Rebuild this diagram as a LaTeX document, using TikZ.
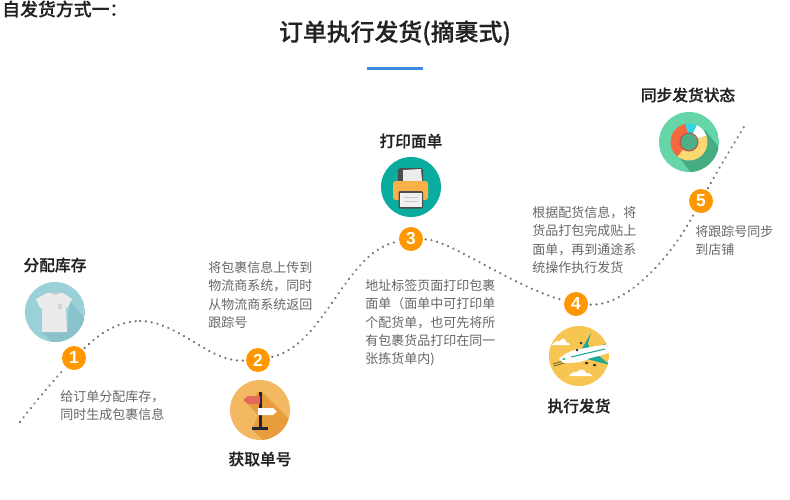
\documentclass[tikz,border=0pt]{standalone}
\usepackage{fontspec}
\setmainfont[BoldFont={Noto Sans CJK SC Medium},BoldFeatures={FakeBold=0.6}]{Noto Sans CJK SC}
\newfontfamily\digitfont{Liberation Sans}
\usetikzlibrary{backgrounds}
\definecolor{txtbody}{HTML}{666666}
\definecolor{txthead}{HTML}{222222}
\definecolor{numor}{HTML}{FF9800}
\definecolor{dotg}{HTML}{777777}
\tikzset{
  px/.style={x=0.75pt,y=-0.75pt},
  bodytxt/.style={anchor=north west,inner sep=0pt,align=left,text=txtbody,font=\fontsize{9.75pt}{13.8pt}\selectfont},
  headtxt/.style={anchor=center,inner sep=0pt,text=txthead,font=\fontsize{11.8pt}{14pt}\selectfont\bfseries},
  numdot/.style={circle,fill=numor,minimum size=18pt,inner sep=0pt,outer sep=2pt,text=white,font=\digitfont\bfseries\fontsize{13pt}{14pt}\selectfont},
  trail/.style={draw=dotg,line width=1.9pt,line cap=round,dash pattern=on 0.01pt off 4.4pt},
}
\begin{document}
\begin{tikzpicture}[px]
\useasboundingbox (0,0) rectangle (790,500);

% titles
\node[anchor=west,inner sep=0pt,text=txthead,font=\fontsize{13.4pt}{14pt}\selectfont\bfseries] (toptitle) at (2,9) {自发货方式一：};
\node[anchor=center,inner sep=0pt,text=txthead,font=\fontsize{17.9pt}{20pt}\selectfont\bfseries] (maintitle) at (395,33) {订单执行发货(摘裹式)};
\fill[fill={rgb,255:red,58;green,138;blue,224}] (367,67) rectangle (423,70);

% shirt icon
\begin{scope}
\clip (55,312) circle (30);
\fill[fill={rgb,255:red,155;green,208;blue,217}] (25,282) rectangle (85,342);
\fill[fill={rgb,255:red,138;green,194;blue,203}] (70,300) -- (90,325) -- (90,345) -- (55,345) -- (42,332) -- (67,332) -- cycle;
\fill[fill={rgb,255:red,235;green,235;blue,235}] (47,293) -- (63,293) -- (72,299) -- (68,307) -- (66,308) -- (67,332) -- (42,332) -- (42,308) -- (40,308) -- (36,299) -- cycle;
\fill[fill={rgb,255:red,205;green,205;blue,205}] (49,292.5) -- (61,292.5) -- (55,295) -- cycle;
\fill[fill={rgb,255:red,212;green,212;blue,212}] (58,304) rectangle (62,309);
\end{scope}

% signpost icon
\begin{scope}
\clip (260,410) circle (30);
\fill[fill={rgb,255:red,243;green,184;blue,98}] (230,380) rectangle (290,440);
\fill[fill={rgb,255:red,233;green,156;blue,60}] (262,392) -- (295,425) -- (295,445) -- (268,445) -- (252,429) -- (258,415) -- (248,404) -- (258,392) -- cycle;
\fill[fill={rgb,255:red,28;green,36;blue,54}] (258.5,392) rectangle (261.5,428);
\fill[fill={rgb,255:red,28;green,36;blue,54}] (252,427) rectangle (268,429.5);
\fill[fill={rgb,255:red,228;green,105;blue,90}] (243,400) -- (248,396) -- (260,396) -- (260,404) -- (248,404) -- cycle;
\fill[white] (258,408) -- (273,408) -- (277,411.5) -- (273,415) -- (258,415) -- cycle;
\end{scope}

% printer icon
\fill[fill={rgb,255:red,10;green,172;blue,160}] (411,187) circle (30);
\fill[fill={rgb,255:red,77;green,77;blue,77},rounded corners=2] (398,168) rectangle (423,186);
\fill[fill={rgb,255:red,236;green,236;blue,236}] (403,170) -- (421,169) -- (422,181) -- (403,181) -- cycle;
\fill[fill={rgb,255:red,247;green,177;blue,70},rounded corners=2] (393,181) rectangle (428,200);
\fill[fill={rgb,255:red,77;green,77;blue,77},rounded corners=1] (398.5,191) rectangle (423,208.5);
\fill[fill={rgb,255:red,240;green,240;blue,240}] (400,193) rectangle (421.5,207);
\draw[draw={rgb,255:red,200;green,200;blue,200},line width=0.6pt] (404,197) -- (418,197) (404,201) -- (418,201);

% plane icon
\begin{scope}
\clip (579,356) circle (30);
\fill[fill={rgb,255:red,246;green,197;blue,82}] (549,326) rectangle (609,386);
\fill[white] (552,345) .. controls (554,341) and (558,341) .. (560,341) .. controls (562,337) and (566,338) .. (566,342) .. controls (569,342) and (570,344) .. (570,345) -- cycle;
\fill[white] (569,376) .. controls (571,372) and (575,372) .. (577,372) .. controls (580,368) and (585,369) .. (586,373) .. controls (590,373) and (592,375) .. (592,376) -- cycle;
\draw[draw={rgb,255:red,120;green,110;blue,50},line width=0.7pt] (553,364) -- (586,354) (554,366) -- (587,356) (590,349) -- (610,343) (591,351) -- (610,345);
\fill[fill={rgb,255:red,24;green,170;blue,150}] (591,333) -- (588,343) -- (590,350) -- (580,352) -- cycle;
\fill[white] (559,359) .. controls (565,353) and (572,350) .. (580,349) -- (608,344) -- (609,353) -- (580,362) .. controls (572,363) and (565,364) .. (562,362) -- cycle;
\fill[fill={rgb,255:red,24;green,170;blue,150}] (587,359) -- (599,356) -- (610,365) -- cycle;
\fill[fill={rgb,255:red,24;green,170;blue,150}] (561,359) -- (565,358) -- (565,360) -- cycle;
\draw[draw={rgb,255:red,24;green,170;blue,150},line width=0.8pt] (571,357) -- (605,349);
\fill[fill={rgb,255:red,60;green,60;blue,60}] (585,362) rectangle (588,364) (593,364) rectangle (596,366) (576,349) rectangle (578,351) (580,342) rectangle (582,344);
\end{scope}

% donut icon
\begin{scope}
\clip (689,142) circle (30);
\fill[fill={rgb,255:red,102;green,214;blue,168}] (659,112) rectangle (719,172);
\fill[fill={rgb,255:red,70;green,172;blue,130}] (705,130) -- (725,155) -- (720,180) -- (695,178) -- (678,156) -- cycle;
\end{scope}
\fill[fill={rgb,255:red,244;green,105;blue,63}] (689,142) -- ++(-100:18.5) arc[start angle=-100,end angle=-232,radius=18.5] -- cycle;
\fill[fill={rgb,255:red,46;green,214;blue,226}] (689,142) -- ++(-65:18.5) arc[start angle=-65,end angle=-100,radius=18.5] -- cycle;
\fill[white] (689,142) -- ++(-20:18.5) arc[start angle=-20,end angle=-65,radius=18.5] -- cycle;
\fill[fill={rgb,255:red,251;green,216;blue,114}] (689,142) -- ++(-232:18.5) arc[start angle=-232,end angle=-380,radius=18.5] -- cycle;
\fill[fill={rgb,255:red,76;green,175;blue,133},draw={rgb,255:red,205;green,70;blue,70},line width=0.75pt] (689,142) circle (9);

% number nodes
\node[numdot] (n1) at (74,358) {1};
\node[numdot] (n2) at (258,360) {2};
\node[numdot] (n3) at (411,239) {3};
\node[numdot] (n4) at (576,304) {4};
\node[numdot] (n5) at (701,201) {5};
\coordinate (trailstart) at (20,422);
\coordinate (crest) at (140,321);
\coordinate (trailend) at (745,125);

% dotted trail
\begin{scope}[on background layer]
\path[trail] (trailstart) .. controls (38,398) and (56,378) .. (n1);
\path[trail] (n1) .. controls (95,338) and (115,321) .. (crest);
\path[trail] (crest) .. controls (178,321) and (208,362) .. (n2);
\path[trail] (n2) .. controls (325,345) and (345,252) .. (n3);
\path[trail] (n3) .. controls (450,240) and (510,285) .. (n4);
\path[trail] (n4) .. controls (625,306) and (668,262) .. (n5);
\path[trail] (n5) .. controls (715,175) and (730,150) .. (trailend);
\end{scope}

% headings
\node[headtxt] (h1) at (55,265) {分配库存};
\node[headtxt] (h2) at (260,459) {获取单号};
\node[headtxt] (h3) at (411,141) {打印面单};
\node[headtxt] (h4) at (579,406) {执行发货};
\node[headtxt] (h5) at (688,95) {同步发货状态};

% descriptions
\node[bodytxt] (d1) at (60,390) {给订单分配库存，\\同时生成包裹信息};
\node[bodytxt] (d2) at (208,261) {将包裹信息上传到\\物流商系统，同时\\从物流商系统返回\\跟踪号};
\node[bodytxt] (d3) at (365,279) {地址标签页面打印包裹\\面单（面单中可打印单\\个配货单，也可先将所\\有包裹货品打印在同一\\张拣货单内)};
\node[bodytxt] (d4) at (532,206) {根据配货信息，将\\货品打包完成贴上\\面单，再到通途系\\统操作执行发货};
\node[bodytxt] (d5) at (695,225) {将跟踪号同步\\到店铺};
\end{tikzpicture}
\end{document}
